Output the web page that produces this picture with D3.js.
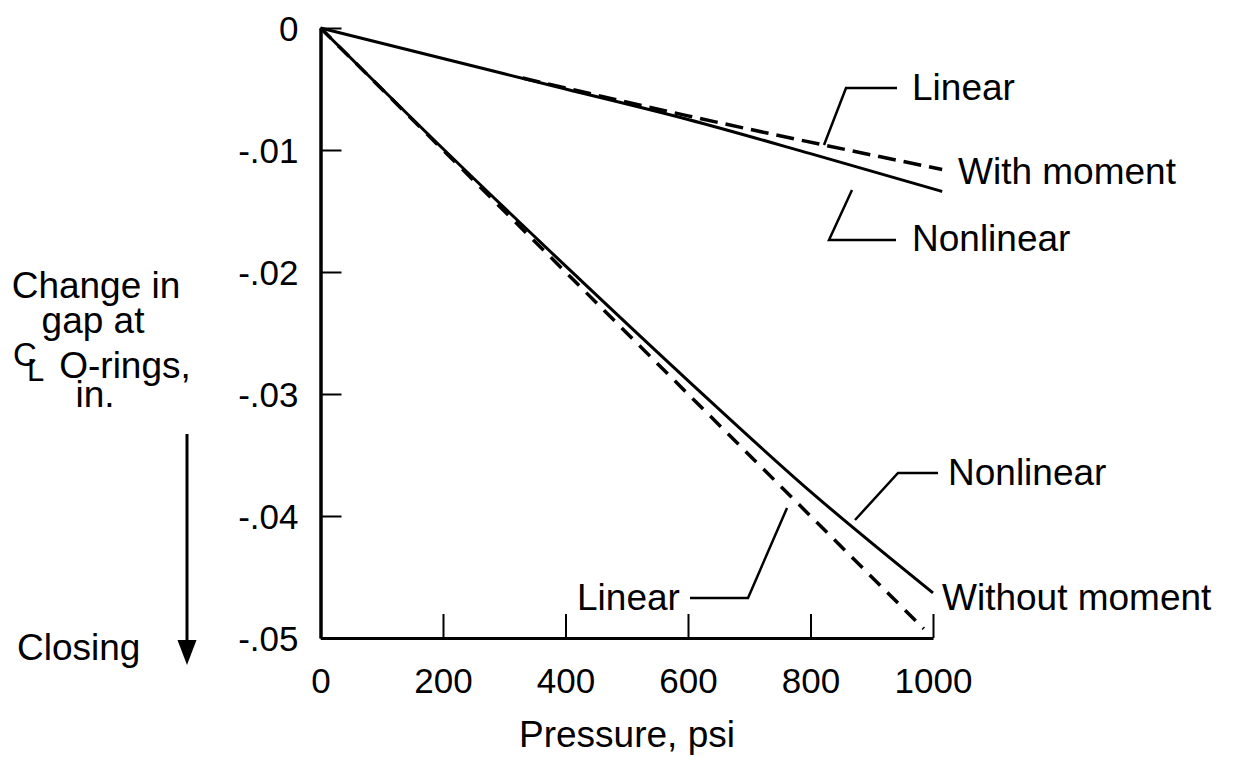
<!DOCTYPE html>
<html>
<head>
<meta charset="utf-8">
<script src="https://cdn.jsdelivr.net/npm/d3@7"></script>
<style>
  html, body { margin: 0; padding: 0; background: #fff; }
  svg text { font-family: "Liberation Sans", Arial, Helvetica, sans-serif; fill: #000; }
</style>
</head>
<body>
<svg id="chart" width="1242" height="766"></svg>
<script>
// Pressure axis (psi) and gap axis (in.)
const pressureTicks = [0, 200, 400, 600, 800, 1000];
const gapTicks = [0, -0.01, -0.02, -0.03, -0.04, -0.05];
const gapTickLabels = ["0", "-.01", "-.02", "-.03", "-.04", "-.05"];

// With moment: [pressure, change in gap]
const withMomentNonlinear = [[0, 0], [200, -0.0025], [400, -0.0050], [600, -0.0075], [800, -0.0103], [1015, -0.0134]];
const withMomentLinear = [[330, -0.0041], [600, -0.0072], [1015, -0.0116]];

// Without moment
const withoutMomentNonlinear = [[0, 0], [200, -0.0099], [400, -0.0195], [600, -0.0289], [800, -0.0380], [1000, -0.0463]];
const withoutMomentLinear = [[0, 0], [985, -0.04925]];

const svg = d3.select("#chart");
const TICK_FS = 35;
const FS = 37;

const x = d3.scaleLinear().domain([0, 1000]).range([320.5, 933]);
const y = d3.scaleLinear().domain([0, -0.05]).range([28, 638]);

// Y axis: ticks point inward, labels on the left
const yAxis = d3.axisLeft(y)
  .tickValues(gapTicks)
  .tickFormat((d, i) => gapTickLabels[i])
  .tickSize(-21)
  .tickSizeOuter(0)
  .tickPadding(22);

const gy = svg.append("g").attr("transform", `translate(${x(0)},0)`).call(yAxis);
gy.select(".domain").attr("stroke", "#000").attr("stroke-width", 3.5);
gy.selectAll(".tick line").attr("stroke", "#000").attr("stroke-width", 2);
gy.selectAll(".tick text").attr("font-size", TICK_FS).attr("fill", "#000").attr("dy", "0.36em");

// X axis: ticks point upward
const xAxis = d3.axisBottom(x)
  .tickValues(pressureTicks)
  .tickFormat(d3.format("d"))
  .tickSize(-24)
  .tickSizeOuter(0)
  .tickPadding(30);

const gx = svg.append("g").attr("transform", `translate(0,${y(-0.05)})`).call(xAxis);
gx.select(".domain").attr("stroke", "#000").attr("stroke-width", 3);
gx.selectAll(".tick line").attr("stroke", "#000").attr("stroke-width", 2);
gx.selectAll(".tick text").attr("font-size", TICK_FS).attr("fill", "#000");

// Curves
const line = d3.line().x(d => x(d[0])).y(d => y(d[1])).curve(d3.curveMonotoneX);

function drawSeries(data, dashed, dash) {
  svg.append("path")
    .datum(data)
    .attr("d", line)
    .attr("fill", "none")
    .attr("stroke", "#000")
    .attr("stroke-width", dashed ? 3.5 : 3)
    .attr("stroke-dasharray", dashed ? dash : null)
    .attr("stroke-linecap", "butt");
}
drawSeries(withMomentNonlinear, false);
drawSeries(withMomentLinear, true, "18 8");
drawSeries(withoutMomentNonlinear, false);
drawSeries(withoutMomentLinear, true, "15 10");

// Leader lines and curve labels
const leaders = [
  [[824, 145], [846, 88], [897, 88]],
  [[852, 190], [829, 240], [896, 240]],
  [[855, 520], [898, 473], [938, 473]],
  [[787, 508], [748, 598], [690, 598]]
];
leaders.forEach(pts => {
  svg.append("path")
    .attr("d", d3.line()(pts))
    .attr("fill", "none")
    .attr("stroke", "#000")
    .attr("stroke-width", 2.5);
});

const labels = [
  { t: "Linear", x: 912, y: 100 },
  { t: "With moment", x: 958, y: 184 },
  { t: "Nonlinear", x: 912, y: 251 },
  { t: "Nonlinear", x: 948, y: 485 },
  { t: "Without moment", x: 942, y: 610 },
  { t: "Linear", x: 577, y: 610 }
];
svg.selectAll(".lbl").data(labels).enter().append("text")
  .attr("class", "lbl")
  .attr("x", d => d.x).attr("y", d => d.y)
  .attr("font-size", FS)
  .text(d => d.t);

// Y axis title (multi-line, with the centre-line symbol drawn as C over L)
const yTitle = [
  { t: "Change in", x: 96, y: 298, anchor: "middle", fs: FS },
  { t: "gap at", x: 93, y: 333, anchor: "middle", fs: FS },
  { t: "C", x: 13, y: 366, anchor: "start", fs: 33 },
  { t: "L", x: 27, y: 381, anchor: "start", fs: 31 },
  { t: "O-rings,", x: 125, y: 378, anchor: "middle", fs: FS },
  { t: "in.", x: 95, y: 407, anchor: "middle", fs: FS }
];
svg.append("text")
  .selectAll("tspan").data(yTitle).enter().append("tspan")
  .attr("x", d => d.x).attr("y", d => d.y)
  .attr("text-anchor", d => d.anchor)
  .attr("font-size", d => d.fs)
  .text(d => d.t);

// Closing direction
svg.append("text").attr("x", 17).attr("y", 660).attr("font-size", FS).text("Closing");
svg.append("line")
  .attr("x1", 187).attr("y1", 434).attr("x2", 187).attr("y2", 645)
  .attr("stroke", "#000").attr("stroke-width", 3);
svg.append("path")
  .attr("d", "M177.5,640 L196.5,640 L187,665 Z")
  .attr("fill", "#000");

// X axis title
svg.append("text")
  .attr("x", 627).attr("y", 747)
  .attr("text-anchor", "middle")
  .attr("font-size", FS)
  .text("Pressure, psi");
</script>
</body>
</html>
